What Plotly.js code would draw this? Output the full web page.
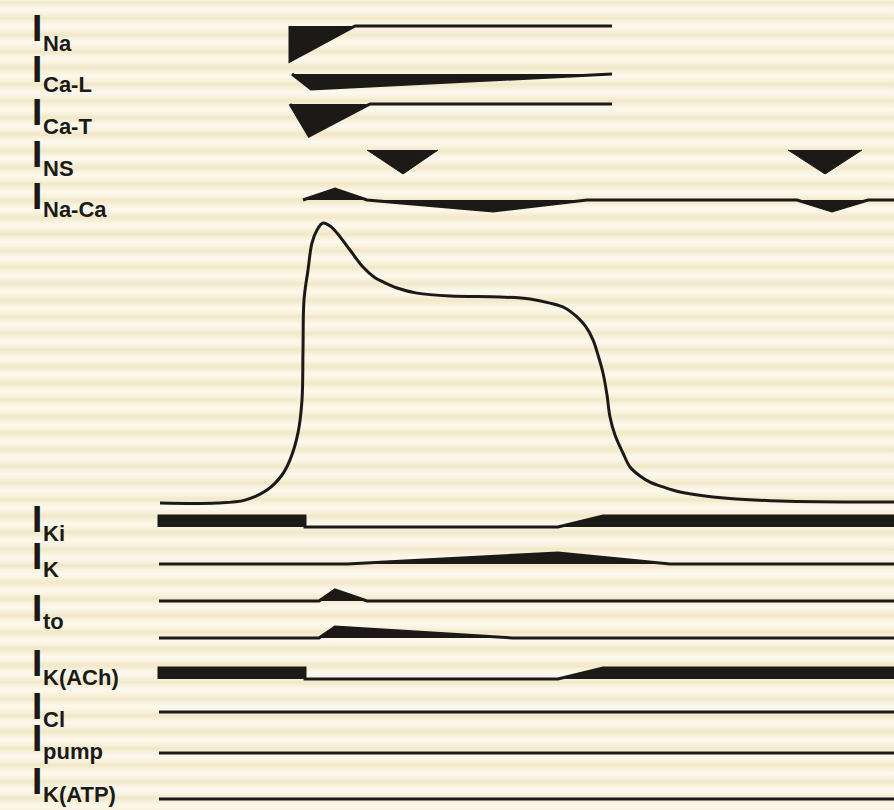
<!DOCTYPE html>
<html>
<head>
<meta charset="utf-8">
<script src="https://cdn.plot.ly/plotly-3.0.1.min.js"></script>
<style>
  html, body { margin: 0; padding: 0; background: #f9f4e4; }
  #chart {
    width: 894px; height: 810px;
    background: repeating-linear-gradient(180deg,
      #f1e7c7 0px, #f8f1dd 4px, #fcf9ee 8px, #f8f1dd 12.5px, #f1e7c7 16.6px);
    background-position: 0 1.5px;
  }
</style>
</head>
<body>
<div id="chart"></div>
<script>
// ---------------- DATA (time in ms, 0 = upstroke; amplitudes: + outward, - inward) ----------------
const labels = ['Na', 'Ca-L', 'Ca-T', 'NS', 'Na-Ca', 'Ki', 'K', 'to', 'K(ACh)', 'Cl', 'pump', 'K(ATP)'];

// Action potential (mV)
const apTime = [-140, -83, -55, -33, -18, -10, -2, 2, 3, 4, 8, 12, 17, 23, 30, 37, 50, 63, 75, 83, 97, 117, 150, 200, 230, 250, 265, 277, 286, 293, 298, 303, 307, 310, 315, 323, 330, 340, 350, 363, 380, 413, 480, 594];
const apVm   = [-85, -85, -83.8, -79.7, -73.5, -67.3, -56.2, -42.7, -22.2, -1.6, 10.7, 21.8, 27.1, 30, 28.8, 25.9, 18.9, 11.9, 7.5, 5.8, 3.3, 1.2, 0, -0.4, -1.2, -2.9, -4.9, -8.6, -12.7, -18, -24.2, -31.6, -40.6, -49.7, -57.1, -64.5, -70.2, -73.9, -76.4, -78.4, -80.5, -82.5, -84.2, -84.6];

// Currents
const tNa    = [-10, -10, 55, 312];              const aNa    = [0, -35, 0, 0];
const tCaL   = [-8, 11, 312];                    const aCaL   = [0, -15, 0];
const tCaT   = [-10, 9, 70, 312];                const aCaT   = [0, -32, 0, 0];
const tNS    = [67, 103, 138, null, 488, 525, 562]; const aNS = [0, -24, 0, null, 0, -24, 0];
const tNaCa  = [3, 35, 67, 193, 287, 497, 532, 568, 594]; const aNaCa = [0, 11, 0, -11, 0, 0, -11, 0, 0];
const tKi    = [-141, -141, 5, 5, 258, 303, 594, 594];   const aKi   = [0, 11, 11, 0, 0, 11, 11, 0];
const tK     = [-141, 47, 258, 370, 594];        const aK     = [0, 0, 11, 0, 0];
const tTo1   = [-141, 19, 35, 67, 594];          const aTo1   = [0, 0, 11, 0, 0];
const tTo2   = [-141, 19, 35, 213, 594];         const aTo2   = [0, 0, 11, 0, 0];
const tKACh  = [-141, -141, 5, 5, 258, 303, 594, 594];   const aKACh = [0, 11, 11, 0, 0, 11, 11, 0];
const tCl    = [-141, 594];                      const aCl    = [0, 0];
const tPump  = [-141, 594];                      const aPump  = [0, 0];
const tKATP  = [-141, 594];                      const aKATP  = [0, 0];

// ---------------- LAYOUT (lane positions, styling) ----------------
const INK = '#1c1a17';
const lanes = [
  {t: tNa,   a: aNa,   base: 26,  w: 3},
  {t: tCaL,  a: aCaL,  base: 74,  w: 3},
  {t: tCaT,  a: aCaT,  base: 104, w: 3},
  {t: tNS,   a: aNS,   base: 150, w: 1},
  {t: tNaCa, a: aNaCa, base: 200, w: 3},
  {t: tKi,   a: aKi,   base: 527, w: 3},
  {t: tK,    a: aK,    base: 564, w: 3},
  {t: tTo1,  a: aTo1,  base: 601, w: 3},
  {t: tTo2,  a: aTo2,  base: 638, w: 3},
  {t: tKACh, a: aKACh, base: 679, w: 3},
  {t: tCl,   a: aCl,   base: 712, w: 3},
  {t: tPump, a: aPump, base: 753, w: 3},
  {t: tKATP, a: aKATP, base: 799, w: 3}
];
// baselines of the big "I" and of the subscript for each label
const labelBaseI   = [42, 83, 126, 168, 210, 533, 570, 622, 677, 720, 752, 795];
const labelBaseSub = [52, 93, 135, 177, 218, 542, 578, 630, 686, 728, 760, 803];

const traces = lanes.map(l => ({
  type: 'scatter', mode: 'lines',
  x: l.t,
  y: l.a.map(v => v === null ? null : l.base - v),
  fill: 'toself', fillcolor: INK,
  line: {color: INK, width: l.w},
  connectgaps: false,
  hoverinfo: 'skip', showlegend: false,
  xaxis: 'x', yaxis: 'y'
}));

traces.push({
  type: 'scatter', mode: 'lines',
  x: apTime, y: apVm,
  line: {color: INK, width: 3, shape: 'spline', smoothing: 1},
  hoverinfo: 'skip', showlegend: false,
  xaxis: 'x', yaxis: 'y2'
});

const FONT = 'Liberation Sans, Arial, Helvetica, sans-serif';
const IS = 37, SS = 22;
const annotations = [];
labels.forEach((lab, i) => {
  annotations.push({
    xref: 'x', yref: 'y', x: -270.5, y: labelBaseI[i] + 1 + 0.212 * IS,
    xanchor: 'left', yanchor: 'bottom', showarrow: false,
    text: 'I', font: {family: FONT, size: IS, color: INK, weight: 'bold'}
  });
  annotations.push({
    xref: 'x', yref: 'y', x: -259.5, y: labelBaseSub[i] + 1 + 0.212 * SS,
    xanchor: 'left', yanchor: 'bottom', showarrow: false,
    text: lab, font: {family: FONT, size: SS, color: INK, weight: 'bold'}
  });
});

// mV axis: -85 mV at pixel 503, +30 mV at pixel 223 (plot height 810)
const k = (503 - 223) / 115;
const vTop = -85 + 503 / k, vBot = -85 - (810 - 503) / k;

const layout = {
  width: 894, height: 810,
  margin: {l: 0, r: 0, t: 0, b: 0, pad: 0},
  paper_bgcolor: 'rgba(0,0,0,0)', plot_bgcolor: 'rgba(0,0,0,0)',
  xaxis: {range: [-300, 594], visible: false, fixedrange: true},
  yaxis: {range: [810, 0], visible: false, fixedrange: true},
  yaxis2: {range: [vBot, vTop], visible: false, overlaying: 'y', fixedrange: true},
  annotations: annotations,
  showlegend: false
};

Plotly.newPlot('chart', traces, layout, {staticPlot: true, displayModeBar: false});
</script>
</body>
</html>
